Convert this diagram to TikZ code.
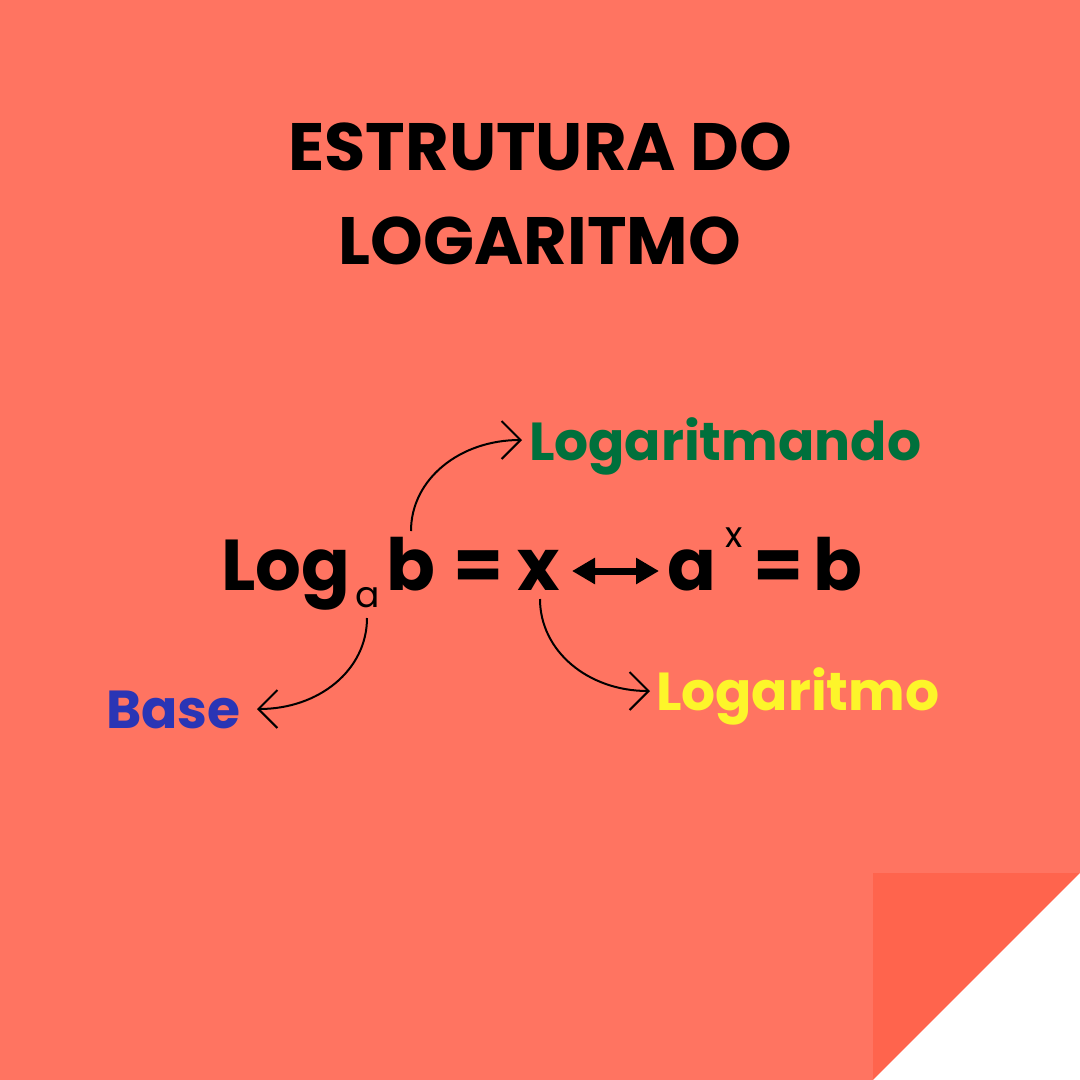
\documentclass[tikz,border=0pt]{standalone}
\usepackage{fontspec}
\setmainfont{Poppins}
\usetikzlibrary{arrows.meta}
\definecolor{bgsalmon}{HTML}{FF7461}
\definecolor{cornerred}{HTML}{FF644D}
\definecolor{lgreen}{HTML}{00703C}
\definecolor{lblue}{HTML}{2A35B5}
\definecolor{lyellow}{HTML}{FDF52A}
\tikzset{
  txt/.style={inner sep=0pt, outer sep=0pt, anchor=base west},
  titletxt/.style={inner sep=0pt, anchor=base, font=\fontsize{67}{80}\selectfont\bfseries},
  big/.style={txt, font=\fontsize{72}{86}\selectfont\bfseries},
  small/.style={txt, font=\fontsize{36}{43}\selectfont},
  lbl/.style={txt, font=\fontsize{53.5}{64}\selectfont\bfseries},
  conn/.style={line width=2pt, -{Straight Barb[length=19pt,width=38pt,line width=2pt]}},
}
\begin{document}
\begin{tikzpicture}[x=1pt,y=-1pt]
\useasboundingbox (0,0) rectangle (1080,1080);
\fill[bgsalmon] (0,0) rectangle (1080,1080);
\fill[cornerred] (873,873) rectangle (1080,1080);
\fill[white] (1080,873) -- (1080,1080) -- (873,1080) -- cycle;

\node[titletxt] (t1) at (540,170) {ESTRUTURA DO};
\node[titletxt] (t2) at (540,264) {LOGARITMO};

\node[big] (log) at (221,590) {Log};
\node[small] (sub) at (355,607) {a};
\node[big] (b1) at (386,590) {b};
\node[big] (eq1) at (453,590) {=};
\node[big] (x1) at (517,590) {x};
\coordinate (dl) at (572,571);
\coordinate (dr) at (659,571);
\draw[line width=7pt, {Triangle[length=23pt,width=25pt]}-{Triangle[length=23pt,width=25pt]}] (dl) -- (dr);
\node[big] (a2) at (667,590) {a};
\node[small] (sup) at (725,547) {x};
\node[big] (eq2) at (753,590) {=};
\node[big] (b2) at (813,590) {b};

\node[lbl, text=lgreen] (lmando) at (529,460) {Logaritmando};
\node[lbl, text=lblue] (base) at (106,728) {Base};
\node[lbl, text=lyellow] (lmo) at (656,710) {Logaritmo};

\coordinate (s1) at (411,531);
\coordinate (e1) at (522,440);
\coordinate (s2) at (367,618);
\coordinate (e2) at (257,709);
\coordinate (s3) at (540,599);
\coordinate (e3) at (650,691);
\draw[conn] (s1) .. controls +(0,-52) and +(-62,0) .. (e1);
\draw[conn] (s2) .. controls +(0,52) and +(62,0) .. (e2);
\draw[conn] (s3) .. controls +(0,52) and +(-62,0) .. (e3);
\end{tikzpicture}
\end{document}
